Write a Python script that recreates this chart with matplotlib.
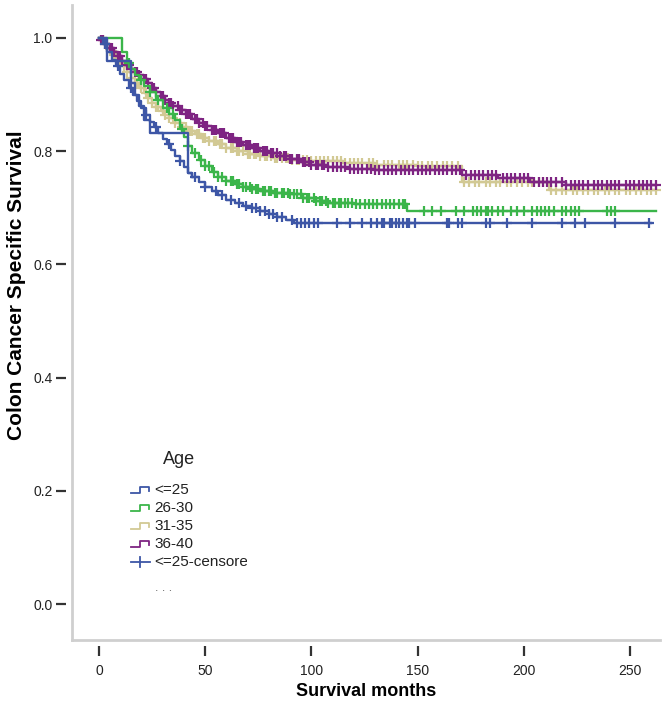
import matplotlib
matplotlib.use("Agg")
import matplotlib.pyplot as plt
import numpy as np
from matplotlib.lines import Line2D
from matplotlib.transforms import Bbox, TransformedBbox

plt.rcParams['font.family'] = ['Liberation Sans', 'DejaVu Sans']

# curvas de supervivencia (tiempo del evento, supervivencia tras el evento)
blue_t = [0, 2, 4, 6, 8, 10, 12, 14, 16, 18, 20, 22, 24, 26, 28, 30, 32, 34, 36, 38, 40, 42,
          44, 47, 50, 53, 56, 60, 64, 68, 72, 76, 80, 84, 88, 92, 260]
blue_s = [1.0, 0.99, 0.975, 0.962, 0.95, 0.937, 0.925, 0.912, 0.90, 0.888, 0.876, 0.864, 0.852,
          0.842, 0.832, 0.822, 0.812, 0.802, 0.792, 0.782, 0.772, 0.762, 0.754, 0.745, 0.737,
          0.729, 0.722, 0.714, 0.708, 0.703, 0.699, 0.695, 0.689, 0.684, 0.679, 0.674, 0.674]

blue2_t = [0, 4, 15, 17, 19, 21, 24, 42, 44]
blue2_s = [1.0, 0.96, 0.92, 0.90, 0.88, 0.855, 0.832, 0.761, 0.754]

green_t = [0, 11, 13, 15, 17, 19, 21, 24, 27, 30, 33, 36, 38, 40, 42, 44, 47, 50, 53, 56, 60, 64,
           68, 72, 76, 82, 90, 96, 102, 108, 120, 145, 262]
green_s = [1.0, 0.975, 0.956, 0.945, 0.935, 0.925, 0.915, 0.905, 0.89, 0.877, 0.865, 0.855, 0.84,
           0.825, 0.81, 0.797, 0.785, 0.773, 0.763, 0.755, 0.748, 0.742, 0.737, 0.733, 0.73, 0.727,
           0.724, 0.718, 0.712, 0.708, 0.706, 0.694, 0.694]

tan_t = [0, 1, 3, 5, 7, 9, 11, 13, 15, 17, 19, 21, 23, 25, 27, 29, 31, 33, 36, 39, 42, 45, 48, 52,
         56, 60, 65, 70, 76, 82, 90, 100, 115, 130, 150, 171, 212, 262]
tan_s = [1.0, 0.997, 0.99, 0.98, 0.97, 0.96, 0.95, 0.94, 0.93, 0.921, 0.912, 0.903, 0.894, 0.886,
         0.878, 0.871, 0.864, 0.858, 0.85, 0.843, 0.836, 0.83, 0.824, 0.818, 0.812, 0.806, 0.80,
         0.795, 0.791, 0.788, 0.785, 0.782, 0.779, 0.776, 0.773, 0.745, 0.731, 0.731]

purple_t = [0, 1, 3, 5, 7, 9, 11, 13, 15, 17, 19, 21, 23, 25, 27, 29, 31, 33, 35, 38, 41, 44, 47,
            50, 53, 56, 60, 64, 68, 72, 76, 80, 85, 90, 95, 100, 108, 118, 130, 171, 188, 203, 220, 262]
purple_s = [1.0, 0.997, 0.99, 0.982, 0.975, 0.968, 0.96, 0.953, 0.946, 0.94, 0.934, 0.927, 0.92,
            0.912, 0.905, 0.898, 0.891, 0.885, 0.879, 0.872, 0.865, 0.857, 0.85, 0.844, 0.838,
            0.832, 0.824, 0.817, 0.811, 0.806, 0.801, 0.796, 0.791, 0.786, 0.781, 0.776, 0.772,
            0.769, 0.767, 0.758, 0.752, 0.745, 0.740, 0.740]

# casos censurados
blue_c = [3, 9, 15, 22, 27, 33, 38, 45, 50, 55, 58, 62, 66, 69, 72, 74, 76, 78, 80, 82, 84, 86, 91,
          93, 95, 97, 99, 101, 103, 112, 118, 124, 128, 131, 133, 134, 137, 138, 140, 141, 143, 145,
          146, 149, 164, 165, 169, 171, 182, 184, 192, 204, 218, 224, 229, 243, 259]
green_c = [14, 20, 24, 28, 32, 35, 39, 42, 45, 48, 50, 52, 54, 56, 58, 60, 62, 63, 65, 66, 68, 69,
           71, 72, 74, 75, 77, 78, 80, 81, 83, 84, 86, 87, 89, 90, 92, 93, 95, 96, 98, 99, 101, 102,
           104, 105, 107, 108, 110, 111, 113, 114, 116, 117, 119, 121, 123, 125, 127, 129, 131, 133,
           135, 137, 139, 141, 143, 144, 153, 157, 161, 168, 172, 176, 178, 180, 182, 183, 185, 188,
           190, 194, 197, 200, 204, 206, 208, 210, 212, 214, 218, 220, 222, 224, 226, 239, 241, 243]
tan_c = [2, 4, 5, 7, 8, 10, 12, 13, 15, 17, 18, 20, 22, 23, 25, 27, 28, 30, 31, 33, 35, 36, 38, 39,
         41, 43, 44, 46, 47, 49, 50, 52, 54, 55, 57, 58, 60, 62, 63, 65, 66, 68, 70, 71, 73, 74,
         76, 78, 79, 81, 83, 84, 86, 88, 89, 91, 93, 94, 96, 98, 100, 102, 104, 106, 108, 110, 112,
         114, 116, 118, 120, 122, 124, 127, 129, 131, 134, 136, 138, 141, 143, 145, 148, 150, 152,
         155, 157, 159, 162, 164, 166, 169, 172, 174, 177, 179, 182, 184, 187, 189, 192, 194, 197,
         199, 202, 204, 207, 209, 213, 215, 218, 220, 223, 225, 228, 230, 233, 235, 238, 240, 243,
         245, 248, 250, 253, 255, 258, 260, 262]
purple_c = [1, 2, 3, 5, 6, 7, 9, 10, 11, 13, 14, 15, 17, 18, 19, 21, 22, 23, 25, 26, 27, 29, 30, 31,
            33, 34, 35, 37, 38, 39, 41, 42, 43, 45, 46, 47, 49, 50, 51, 53, 54, 55, 57, 58, 59, 61,
            62, 63, 65, 66, 67, 69, 70, 71, 73, 74, 75, 77, 78, 79, 81, 82, 84, 85, 87, 88, 90, 91,
            93, 94, 96, 97, 99, 100, 102, 103, 105, 106, 108, 110, 112, 114, 116, 118, 120, 122,
            124, 126, 128, 130, 132, 134, 136, 138, 140, 142, 144, 146, 148, 150, 152, 154, 156,
            158, 160, 162, 164, 166, 168, 170, 173, 175, 177, 179, 181, 183, 185, 187, 190, 192,
            194, 196, 198, 200, 202, 205, 207, 209, 211, 213, 215, 218, 220, 222, 224, 226, 228,
            230, 233, 235, 237, 239, 241, 243, 245, 248, 250, 252, 254, 256, 258, 260, 262]

BLUE = '#3D56A6'
GREEN = '#3BB54A'
TAN = '#D2C994'
PURPLE = '#7E2482'

W, H = 664, 703
fig = plt.figure(figsize=(W / 100, H / 100), dpi=100)
ax = fig.add_axes([72 / W, 1 - 640 / H, 588 / W, 635 / H])


def km(t, s, c, color, z):
    ax.step(t, s, where='post', color=color, lw=1.7, zorder=z)
    if c is not None:
        idx = np.searchsorted(t, c, side='right') - 1
        ax.plot(c, np.array(s)[idx], ls='none', marker='+', ms=7.5, mew=1.6, color=color, zorder=z)


km(tan_t, tan_s, tan_c, TAN, 2)
km(purple_t, purple_s, purple_c, PURPLE, 3)
km(green_t, green_s, green_c, GREEN, 4)
km(blue_t, blue_s, blue_c, BLUE, 5)
km(blue2_t, blue2_s, None, BLUE, 5)

ax.set_xlim(-12.7, 264.1)
ax.set_ylim(-0.0636, 1.0583)
ax.set_xticks([0, 50, 100, 150, 200, 250])
ax.set_yticks([0.0, 0.2, 0.4, 0.6, 0.8, 1.0])
ax.set_yticklabels(['0.0', '0.2', '0.4', '0.6', '0.8', '1.0'])

for side in ['top', 'right']:
    ax.spines[side].set_visible(False)
for side in ['left', 'bottom']:
    ax.spines[side].set_position(('outward', 4))
    ax.spines[side].set_color('none')
ax.add_line(Line2D([0, 0], [0, 1], transform=ax.transAxes, color='#CFCFCF', lw=2, clip_on=False))
ax.add_line(Line2D([0, 1], [0, 0], transform=ax.transAxes, color='#CFCFCF', lw=2, clip_on=False))
ax.tick_params(direction='out', length=7, width=1.6, color='#333333', labelsize=10,
               labelcolor='#222222')
ax.tick_params(axis='x', pad=6)
ax.tick_params(axis='y', pad=3)

ax.set_xlabel('Survival months', fontsize=13, fontweight='bold', labelpad=4)
ax.set_ylabel('Colon Cancer Specific Survival', fontsize=15, fontweight='bold')
ax.yaxis.set_label_coords(-0.079, 0.559)


# leyenda dibujada a mano (coordenadas en píxeles)
def px(x, y):
    return x / W, 1 - y / H


fig.text(*px(163, 460), 'Age', fontsize=13, va='center', ha='left', color='#222222')
labels = ['<=25', '26-30', '31-35', '36-40']
colors = [BLUE, GREEN, TAN, PURPLE]
for i, (lab, col) in enumerate(zip(labels, colors)):
    y = 490 + 18 * i
    xs = [131, 140, 140, 149, 149]
    ys = [y + 3, y + 3, y - 3, y - 3, y + 1]
    fx, fy = zip(*[px(a, b) for a, b in zip(xs, ys)])
    fig.add_artist(Line2D(fx, fy, transform=fig.transFigure, color=col, lw=1.3))
    fig.text(*px(154, y), lab, fontsize=11, va='center', ha='left', color='#222222')

y = 562
fx, fy = zip(*[px(131, y), px(150, y)])
fig.add_artist(Line2D(fx, fy, transform=fig.transFigure, color=BLUE, lw=1.3))
fx, fy = zip(*[px(140, y - 5), px(140, y + 5)])
fig.add_artist(Line2D(fx, fy, transform=fig.transFigure, color=BLUE, lw=1.3))
t = fig.text(*px(154, y), '<=25-censored', fontsize=11, va='center', ha='left', color='#222222')
t.set_clip_on(True)
t.set_clip_box(TransformedBbox(Bbox.from_extents(120 / W, 0.1, 247 / W, 0.3), fig.transFigure))
fig.text(*px(155, 588), '. . .', fontsize=9, va='center', ha='left', color='#666666')

fig.savefig('out.png', dpi=100)
